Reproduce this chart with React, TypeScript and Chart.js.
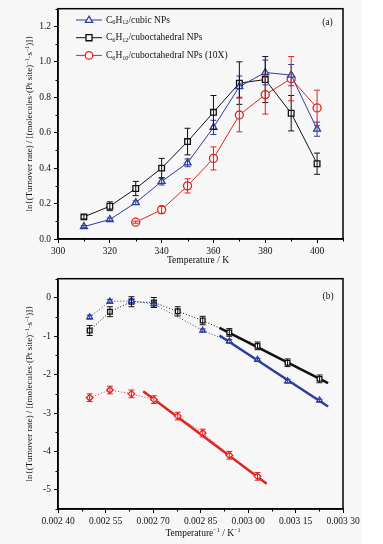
import React, { useEffect, useRef } from 'react';
import { Chart, registerables } from 'chart.js';
Chart.register(...registerables);

// ---------- Panel (a) data ----------
const tempsA = [310, 320, 330, 340, 350, 360, 370, 380, 390, 400];
const cubicA = [0.07, 0.11, 0.205, 0.325, 0.43, 0.63, 0.86, 0.94, 0.925, 0.62];
const cubicAErr = [0.006, 0.008, 0.01, 0.02, 0.022, 0.04, 0.06, 0.07, 0.06, 0.04];
const cuboA = [0.125, 0.185, 0.285, 0.4, 0.55, 0.715, 0.88, 0.9, 0.71, 0.425];
const cuboAErr = [0.012, 0.025, 0.04, 0.055, 0.075, 0.095, 0.12, 0.13, 0.1, 0.06];
const tempsHexA = [330, 340, 350, 360, 370, 380, 390, 400];
const hexA = [0.095, 0.165, 0.3, 0.455, 0.7, 0.815, 0.905, 0.74];
const hexAErr = [0.006, 0.02, 0.04, 0.065, 0.095, 0.11, 0.125, 0.1];

const xTicksA = [300, 320, 340, 360, 380, 400];
const xTickLabelsA = ['300', '320', '340', '360', '380', '400'];
const xMinorA = [310, 330, 350, 370, 390, 410];
const yTicksA = [0, 0.2, 0.4, 0.6, 0.8, 1.0, 1.2];
const yTickLabelsA = ['0.0', '0.2', '0.4', '0.6', '0.8', '1.0', '1.2'];
const yMinorA = [0.1, 0.3, 0.5, 0.7, 0.9, 1.1, 1.3];

// ---------- Panel (b) data ----------
const invT = [0.0025, 0.002564, 0.002632, 0.002703, 0.002778, 0.002857, 0.002941, 0.00303, 0.003125, 0.003226];
const invTCubic = [0.0025, 0.002564, 0.002632, 0.002703, 0.002857, 0.002941, 0.00303, 0.003125, 0.003226];
const cubicB = [-0.5, -0.09, -0.08, -0.16, -0.85, -1.13, -1.61, -2.17, -2.67];
const cubicBErr = [0.05, 0.05, 0.05, 0.05, 0.04, 0.05, 0.03, 0.05, 0.03];
const cuboB = [-0.85, -0.36, -0.1, -0.12, -0.35, -0.59, -0.9, -1.25, -1.69, -2.11];
const cuboBErr = [0.13, 0.13, 0.13, 0.13, 0.12, 0.11, 0.1, 0.1, 0.1, 0.1];
const invTHex = [0.0025, 0.002564, 0.002632, 0.002703, 0.002778, 0.002857, 0.002941, 0.00303];
const hexB = [-2.6, -2.4, -2.5, -2.65, -3.08, -3.52, -4.1, -4.65];
const hexBErr = [0.1, 0.1, 0.1, 0.1, 0.1, 0.1, 0.1, 0.1];

const fitCuboX = [0.00291, 0.003253];
const fitCuboY = [-0.78, -2.22];
const fitCubicX = [0.00291, 0.003253];
const fitCubicY = [-0.98, -2.83];
const fitHexX = [0.002669, 0.003059];
const fitHexY = [-2.43, -4.84];

const xTicksB = [0.0024, 0.00255, 0.0027, 0.00285, 0.003, 0.00315, 0.0033];
const xTickLabelsB = ['0.002 40', '0.002 55', '0.002 70', '0.002 85', '0.003 00', '0.003 15', '0.003 30'];
const xMinorB = [0.002475, 0.002625, 0.002775, 0.002925, 0.003075, 0.003225];
const yTicksB = [-5, -4, -3, -2, -1, 0];
const yTickLabelsB = ['-5', '-4', '-3', '-2', '-1', '0'];
const yMinorB = [-5.5, -4.5, -3.5, -2.5, -1.5, -0.5, 0.5];

// ---------- styles ----------
const BLUE = '#2c3d9c';
const BLACK = '#111111';
const RED = '#e3231f';
const BG = '#f7f7f7';
const FONT = '"Liberation Serif", "Times New Roman", serif';

type Seg = { t: string; s?: 'sub' | 'sup' };

function richWidth(ctx: CanvasRenderingContext2D, segs: Seg[], size: number) {
  let w = 0;
  for (const sg of segs) {
    ctx.font = `${sg.s ? size * 0.65 : size}px ${FONT}`;
    w += ctx.measureText(sg.t).width;
  }
  return w;
}
function drawRich(ctx: CanvasRenderingContext2D, x: number, y: number, segs: Seg[], size: number, align: 'left' | 'center' = 'left') {
  ctx.save();
  ctx.textBaseline = 'middle';
  ctx.textAlign = 'left';
  ctx.fillStyle = '#111';
  let cx = x;
  if (align === 'center') cx = x - richWidth(ctx, segs, size) / 2;
  for (const sg of segs) {
    const sz = sg.s ? size * 0.65 : size;
    ctx.font = `${sz}px ${FONT}`;
    const dy = sg.s === 'sub' ? size * 0.3 : sg.s === 'sup' ? -size * 0.3 : 0;
    ctx.fillText(sg.t, cx, y + dy);
    cx += ctx.measureText(sg.t).width;
  }
  ctx.restore();
}

function drawMarker(ctx: CanvasRenderingContext2D, style: string, x: number, y: number, r: number, color: string) {
  ctx.save();
  ctx.strokeStyle = color;
  ctx.fillStyle = BG;
  ctx.lineWidth = 1.3;
  ctx.beginPath();
  if (style === 'triangle') {
    ctx.moveTo(x, y - r);
    ctx.lineTo(x + r * 0.95, y + r * 0.6);
    ctx.lineTo(x - r * 0.95, y + r * 0.6);
    ctx.closePath();
  } else if (style === 'rect') {
    ctx.rect(x - r * 0.8, y - r * 0.8, r * 1.6, r * 1.6);
  } else {
    ctx.arc(x, y, r, 0, Math.PI * 2);
  }
  ctx.fill();
  ctx.stroke();
  ctx.restore();
}

const errorBarPlugin = {
  id: 'errbars',
  afterDatasetsDraw(chart: any) {
    const ctx = chart.ctx;
    const ys = chart.scales.y;
    chart.data.datasets.forEach((ds: any, i: number) => {
      const errs = ds.errors;
      if (!errs) return;
      const meta = chart.getDatasetMeta(i);
      ctx.save();
      ctx.strokeStyle = ds.borderColor;
      ctx.lineWidth = 1;
      meta.data.forEach((pt: any, j: number) => {
        const v = ds.data[j].y;
        const e = errs[j];
        const x = pt.x;
        const y1 = ys.getPixelForValue(v + e);
        const y2 = ys.getPixelForValue(v - e);
        ctx.beginPath();
        ctx.moveTo(x, y1);
        ctx.lineTo(x, y2);
        ctx.moveTo(x - 3, y1);
        ctx.lineTo(x + 3, y1);
        ctx.moveTo(x - 3, y2);
        ctx.lineTo(x + 3, y2);
        ctx.stroke();
      });
      ctx.restore();
    });
  },
};

function makeFramePlugin(xMinor: number[], yMinor: number[], draw: (chart: any) => void) {
  return {
    id: 'frame',
    afterDraw(chart: any) {
      const ctx = chart.ctx;
      const a = chart.chartArea;
      const xs = chart.scales.x;
      const ys = chart.scales.y;
      ctx.save();
      ctx.strokeStyle = '#000';
      ctx.lineWidth = 1.5;
      ctx.strokeRect(a.left, a.top, a.right - a.left, a.bottom - a.top);
      ctx.lineWidth = 1;
      ctx.beginPath();
      for (const v of xMinor) {
        const px = Math.round(xs.getPixelForValue(v)) + 0.5;
        ctx.moveTo(px, a.bottom);
        ctx.lineTo(px, a.bottom + 2.5);
      }
      for (const v of yMinor) {
        const py = Math.round(ys.getPixelForValue(v)) + 0.5;
        ctx.moveTo(a.left, py);
        ctx.lineTo(a.left - 2.5, py);
      }
      ctx.stroke();
      ctx.restore();
      draw(chart);
    },
  };
}

function pts(xs: number[], ys: number[]) {
  return xs.map((x, i) => ({ x, y: ys[i] }));
}

function axisOpts(min: number, max: number, ticks: number[], labels: string[], fit: (s: any) => void) {
  return {
    type: 'linear' as const,
    min,
    max,
    afterBuildTicks: (scale: any) => {
      scale.ticks = ticks.map((v) => ({ value: v }));
    },
    afterFit: fit,
    ticks: {
      autoSkip: false,
      maxRotation: 0,
      color: '#111',
      padding: 3,
      font: { family: FONT, size: 9.5 },
      callback: (val: any, idx: number) => labels[idx],
    },
    grid: { display: true, drawOnChartArea: false, drawTicks: true, tickLength: 4, color: '#000', tickColor: '#000', tickWidth: 1 },
    border: { display: true, color: '#000', width: 1.5 },
  };
}

const ytitleA: Seg[] = [
  { t: 'ln{(Turnover rate) / [(molecules·(Pt site)' },
  { t: '−1', s: 'sup' },
  { t: '·s' },
  { t: '−1', s: 'sup' },
  { t: ')]}' },
];

function drawYTitle(ctx: CanvasRenderingContext2D, x: number, cy: number) {
  ctx.save();
  ctx.translate(x, cy);
  ctx.rotate(-Math.PI / 2);
  drawRich(ctx, 0, 0, ytitleA, 9, 'center');
  ctx.restore();
}

const legendItems: { segs: Seg[]; color: string; marker: string }[] = [
  { segs: [{ t: 'C' }, { t: '6', s: 'sub' }, { t: 'H' }, { t: '12', s: 'sub' }, { t: '/cubic NPs' }], color: BLUE, marker: 'triangle' },
  { segs: [{ t: 'C' }, { t: '6', s: 'sub' }, { t: 'H' }, { t: '12', s: 'sub' }, { t: '/cuboctahedral NPs' }], color: BLACK, marker: 'rect' },
  { segs: [{ t: 'C' }, { t: '6', s: 'sub' }, { t: 'H' }, { t: '10', s: 'sub' }, { t: '/cuboctahedral NPs (10X)' }], color: RED, marker: 'circle' },
];

function ChartA() {
  const ref = useRef<HTMLCanvasElement>(null);
  useEffect(() => {
    const frame = makeFramePlugin(xMinorA, yMinorA, (chart) => {
      const ctx = chart.ctx;
      // legend
      legendItems.forEach((it, i) => {
        const y = 20 + i * 17.7;
        ctx.save();
        ctx.strokeStyle = it.color;
        ctx.lineWidth = 1;
        ctx.beginPath();
        ctx.moveTo(76, y);
        ctx.lineTo(102, y);
        ctx.stroke();
        ctx.restore();
        drawMarker(ctx, it.marker, 89, y, 3.8, it.color);
        drawRich(ctx, 106, y, it.segs, 9.5);
      });
      drawRich(ctx, 327.5, 22.5, [{ t: '(a)' }], 9.5, 'center');
      drawRich(ctx, 198, 260.5, [{ t: 'Temperature / K' }], 9.5, 'center');
      drawYTitle(ctx, 30, 123.5);
    });
    const chart = new Chart(ref.current!, {
      type: 'line',
      data: {
        datasets: [
          {
            data: pts(tempsA, cubicA), errors: cubicAErr, borderColor: BLUE, backgroundColor: BG,
            borderWidth: 1, pointStyle: 'triangle', pointRadius: 4, pointBorderWidth: 1.3, pointBackgroundColor: BG,
          } as any,
          {
            data: pts(tempsA, cuboA), errors: cuboAErr, borderColor: BLACK, backgroundColor: BG,
            borderWidth: 1, pointStyle: 'rect', pointRadius: 4, pointBorderWidth: 1.3, pointBackgroundColor: BG,
          } as any,
          {
            data: pts(tempsHexA, hexA), errors: hexAErr, borderColor: RED, backgroundColor: BG,
            borderWidth: 1, pointStyle: 'circle', pointRadius: 4, pointBorderWidth: 1.3, pointBackgroundColor: BG,
          } as any,
        ],
      },
      options: {
        animation: false,
        responsive: false,
        events: [],
        layout: { padding: { left: 0, right: 40, top: 8, bottom: 0 } },
        plugins: { legend: { display: false }, tooltip: { enabled: false } },
        scales: {
          x: axisOpts(300, 410, xTicksA, xTickLabelsA, (s: any) => { s.height = 31; }) as any,
          y: axisOpts(0, 1.3, yTicksA, yTickLabelsA, (s: any) => { s.width = 58; }) as any,
        },
      },
      plugins: [errorBarPlugin, frame],
    });
    return () => chart.destroy();
  }, []);
  return <canvas ref={ref} width={383} height={270} style={{ position: 'absolute', left: 0, top: 0, width: 383, height: 270 }} />;
}

function ChartB() {
  const ref = useRef<HTMLCanvasElement>(null);
  useEffect(() => {
    const frame = makeFramePlugin(xMinorB, yMinorB, (chart) => {
      const ctx = chart.ctx;
      drawRich(ctx, 328, 26.7, [{ t: '(b)' }], 9.5, 'center');
      drawRich(ctx, 203, 263, [{ t: 'Temperature' }, { t: '−1', s: 'sup' }, { t: ' / K' }, { t: '−1', s: 'sup' }], 9.5, 'center');
      drawYTitle(ctx, 30, 123.5);
    });
    const dotted = (xs: number[], ys: number[], errs: number[], color: string, style: string) => ({
      data: pts(xs, ys), errors: errs, borderColor: color, backgroundColor: BG,
      borderWidth: 1, borderDash: [1, 2], pointStyle: style, pointRadius: 3.3, pointBorderWidth: 1.3,
      pointBackgroundColor: BG,
    } as any);
    const fit = (xs: number[], ys: number[], color: string) => ({
      data: pts(xs, ys), borderColor: color, borderWidth: 2.5, pointRadius: 0,
    } as any);
    const chart = new Chart(ref.current!, {
      type: 'line',
      data: {
        datasets: [
          dotted(invTCubic, cubicB, cubicBErr, BLUE, 'triangle'),
          dotted(invT, cuboB, cuboBErr, BLACK, 'rect'),
          dotted(invTHex, hexB, hexBErr, RED, 'rectRot'),
          fit(fitCuboX, fitCuboY, BLACK),
          fit(fitCubicX, fitCubicY, BLUE),
          fit(fitHexX, fitHexY, RED),
        ],
      },
      options: {
        animation: false,
        responsive: false,
        events: [],
        layout: { padding: { left: 0, right: 40, top: 8, bottom: 0 } },
        plugins: { legend: { display: false }, tooltip: { enabled: false } },
        scales: {
          x: axisOpts(0.0024, 0.0033, xTicksB, xTickLabelsB, (s: any) => { s.height = 35; }) as any,
          y: axisOpts(-5.5, 0.5, yTicksB, yTickLabelsB, (s: any) => { s.width = 58; }) as any,
        },
      },
      plugins: [errorBarPlugin, frame],
    });
    return () => chart.destroy();
  }, []);
  return <canvas ref={ref} width={383} height={274} style={{ position: 'absolute', left: 0, top: 270, width: 383, height: 274 }} />;
}

export default function App() {
  return (
    <div style={{ position: 'absolute', left: 0, top: 0, width: 383, height: 544, background: '#fff' }}>
      <div style={{ position: 'absolute', left: 0, top: 0, width: 362, height: 544, background: BG }} />
      <ChartA />
      <ChartB />
    </div>
  );
}
